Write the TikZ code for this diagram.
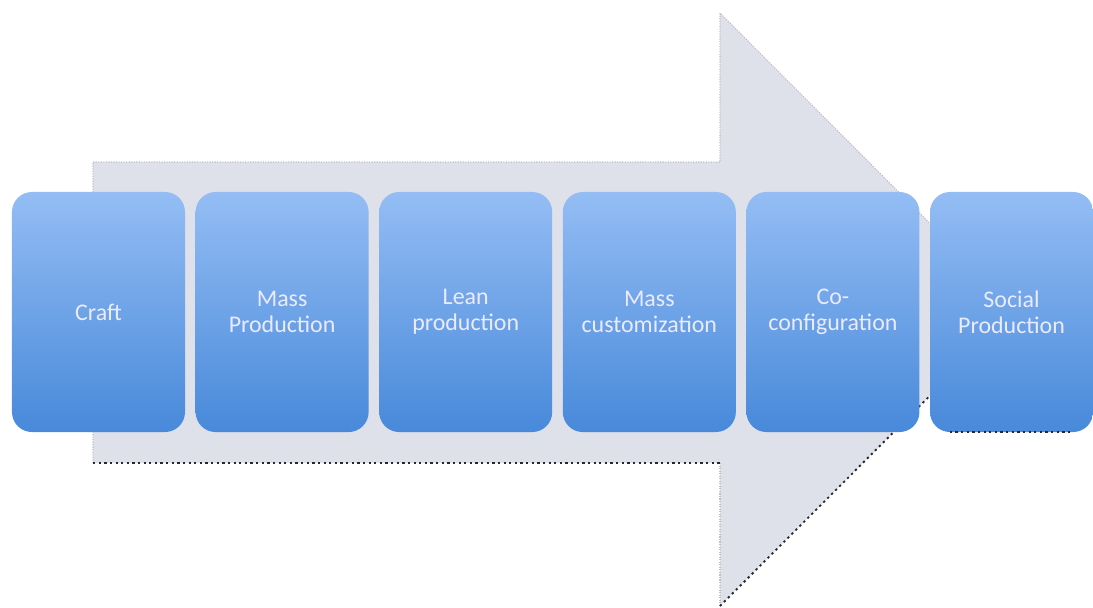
\documentclass[tikz,border=0pt]{standalone}
\usepackage{fontspec}
\setmainfont{Carlito}
\usepackage{tikz}
\usetikzlibrary{positioning}
\definecolor{arrowgray}{RGB}{222,225,234}
\definecolor{boxtop}{RGB}{148,189,244}
\definecolor{boxbot}{RGB}{72,137,218}
\definecolor{edgedark}{RGB}{40,40,40}

\begin{document}
\begin{tikzpicture}[x=0.025cm,y=-0.025cm,
	stage/.style={rounded corners=0.5cm, minimum width=4.325cm, minimum height=6cm,
		top color=boxtop, bottom color=boxbot, text=white!92!blue, align=center,
		font=\fontsize{17}{18.5}\selectfont, inner sep=0pt},
	rim/.style={edgedark, dash pattern=on 1.6pt off 2.4pt, line width=1.3pt}]
\useasboundingbox (0,0) rectangle (1093,607);
% big arrow behind the stages
\fill[arrowgray] (93,162) -- (720,162) -- (720,13) -- (1016,309.5) -- (720,606) -- (720,463) -- (93,463) -- cycle;
\draw[gray!50, densely dotted, line width=0.8pt] (93,463) -- (93,162) -- (720,162) -- (720,13) -- (1016,309.5);
\draw[gray!50, densely dotted, line width=0.8pt] (720,463) -- (720,606);
\draw[rim] (93,463) -- (720,463);
\draw[rim] (720,606) -- (1016,309.5);
% stages
\node[stage] (craft) at (98.5,312) {Craft};
\node[stage, right=0.25cm of craft] (massprod) {Mass\\Production};
\node[stage, right=0.25cm of massprod] (lean) {Lean\\production};
\node[stage, right=0.25cm of lean] (masscust) {Mass\\customization};
\node[stage, right=0.25cm of masscust] (coconf) {Co-\\configuration};
\node[stage, right=0.25cm of coconf, minimum width=4.075cm] (social) {Social\\Production};
\draw[rim] ([xshift=0.5cm]social.south west) -- ([xshift=-0.5cm]social.south east);
\end{tikzpicture}
\end{document}
